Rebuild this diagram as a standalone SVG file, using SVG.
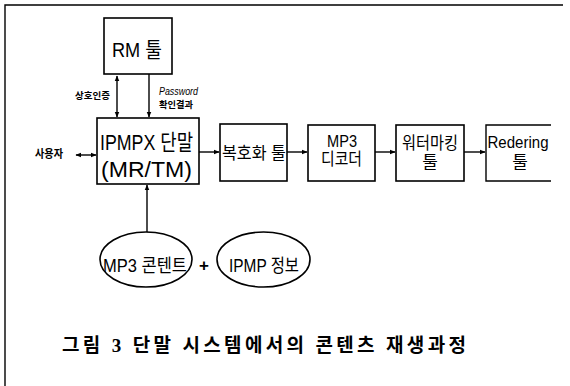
<svg xmlns="http://www.w3.org/2000/svg" width="570" height="386" viewBox="0 0 570 386">
<defs>
<marker id="ah" viewBox="0 0 10 10" refX="9" refY="5" markerWidth="6" markerHeight="6" orient="auto-start-reverse" markerUnits="userSpaceOnUse">
<path d="M0,1 L10,5 L0,9 z" fill="#000"/>
</marker>
<style>
.bx{fill:#fff;stroke:#000;stroke-width:1.6}
.ln{fill:none;stroke:#000;stroke-width:1.4}
.t{font-family:"Liberation Sans","Noto Sans CJK KR",sans-serif;fill:#000;text-anchor:middle}
.s{font-family:"Noto Sans CJK KR","Liberation Sans",sans-serif;font-weight:bold;fill:#000;text-anchor:middle}
.cap{font-family:"Liberation Serif","Noto Sans CJK KR",serif;font-weight:bold;fill:#000;text-anchor:middle}
</style>
</defs>
<rect width="570" height="386" fill="#fff"/>
<g id="frame"><path class="ln" d="M5,386 V5 H563"/></g>
<g id="connectors">
<line class="ln" x1="117" y1="76" x2="117" y2="117" marker-start="url(#ah)" marker-end="url(#ah)"/>
<line class="ln" x1="149" y1="74" x2="149" y2="117" marker-end="url(#ah)"/>
<line class="ln" x1="76" y1="155" x2="96" y2="155" marker-start="url(#ah)" marker-end="url(#ah)"/>
<line class="ln" x1="199" y1="152" x2="219" y2="152" marker-end="url(#ah)"/>
<line class="ln" x1="287" y1="152" x2="307" y2="152" marker-end="url(#ah)"/>
<line class="ln" x1="375" y1="152" x2="395" y2="152" marker-end="url(#ah)"/>
<line class="ln" x1="464" y1="152" x2="485" y2="152" marker-end="url(#ah)"/>
<line class="ln" x1="147" y1="232" x2="147" y2="185" marker-end="url(#ah)"/>
<text class="s" x="92.5" y="99" font-size="9" textLength="35" lengthAdjust="spacingAndGlyphs">상호인증</text>
<text class="t" x="178.5" y="95" font-size="10" font-style="italic" textLength="39" lengthAdjust="spacingAndGlyphs">Password</text>
<text class="s" x="176" y="108" font-size="9" textLength="34" lengthAdjust="spacingAndGlyphs">확인결과</text>
</g>
<g id="rm">
<rect class="bx" x="104" y="18" width="68" height="56"/>
<text class="t" x="137" y="57" font-size="21" textLength="50" lengthAdjust="spacingAndGlyphs">RM 툴</text>
</g>
<g id="user">
<text class="s" x="49" y="158" font-size="11" textLength="28" lengthAdjust="spacingAndGlyphs">사용자</text>
</g>
<g id="ipmpx">
<rect class="bx" x="97" y="118" width="102" height="66"/>
<text class="t" x="146.5" y="150" font-size="22" textLength="93" lengthAdjust="spacingAndGlyphs">IPMPX 단말</text>
<text class="t" x="146.5" y="177" font-size="22" textLength="91" lengthAdjust="spacingAndGlyphs">(MR/TM)</text>
</g>
<g id="decrypt">
<rect class="bx" x="220" y="124" width="67" height="57"/>
<text class="t" x="254" y="159" font-size="17" textLength="64" lengthAdjust="spacingAndGlyphs">복호화 툴</text>
</g>
<g id="decoder">
<rect class="bx" x="308" y="125" width="67" height="56"/>
<text class="t" x="342" y="147" font-size="17" textLength="30" lengthAdjust="spacingAndGlyphs">MP3</text>
<text class="t" x="341.5" y="165" font-size="17" textLength="41" lengthAdjust="spacingAndGlyphs">디코더</text>
</g>
<g id="watermark">
<rect class="bx" x="396" y="125" width="68" height="56"/>
<text class="t" x="430" y="149" font-size="17" textLength="56" lengthAdjust="spacingAndGlyphs">워터마킹</text>
<text class="t" x="430" y="168" font-size="17">툴</text>
</g>
<g id="render">
<path class="ln" d="M551,125 H486 V181 H551" stroke-width="1.6"/>
<text class="t" x="518" y="148" font-size="17" textLength="61" lengthAdjust="spacingAndGlyphs">Redering</text>
<text class="t" x="520" y="168" font-size="17">툴</text>
</g>
<g id="mp3content">
<ellipse class="bx" cx="146" cy="259.5" rx="46" ry="27.5"/>
<text class="t" x="145" y="272" font-size="18" textLength="84" lengthAdjust="spacingAndGlyphs">MP3 콘텐트</text>
</g>
<g id="plus"><text class="t" x="204" y="271" font-size="17" font-weight="bold">+</text></g>
<g id="ipmpinfo">
<ellipse class="bx" cx="263.5" cy="259.5" rx="46.5" ry="27.5"/>
<text class="t" x="264" y="272" font-size="18" textLength="70" lengthAdjust="spacingAndGlyphs">IPMP 정보</text>
</g>
<g id="caption">
<text class="cap" x="264" y="352" font-size="19" textLength="404" lengthAdjust="spacing">그림 3 단말 시스템에서의 콘텐츠 재생과정</text>
</g>
</svg>
